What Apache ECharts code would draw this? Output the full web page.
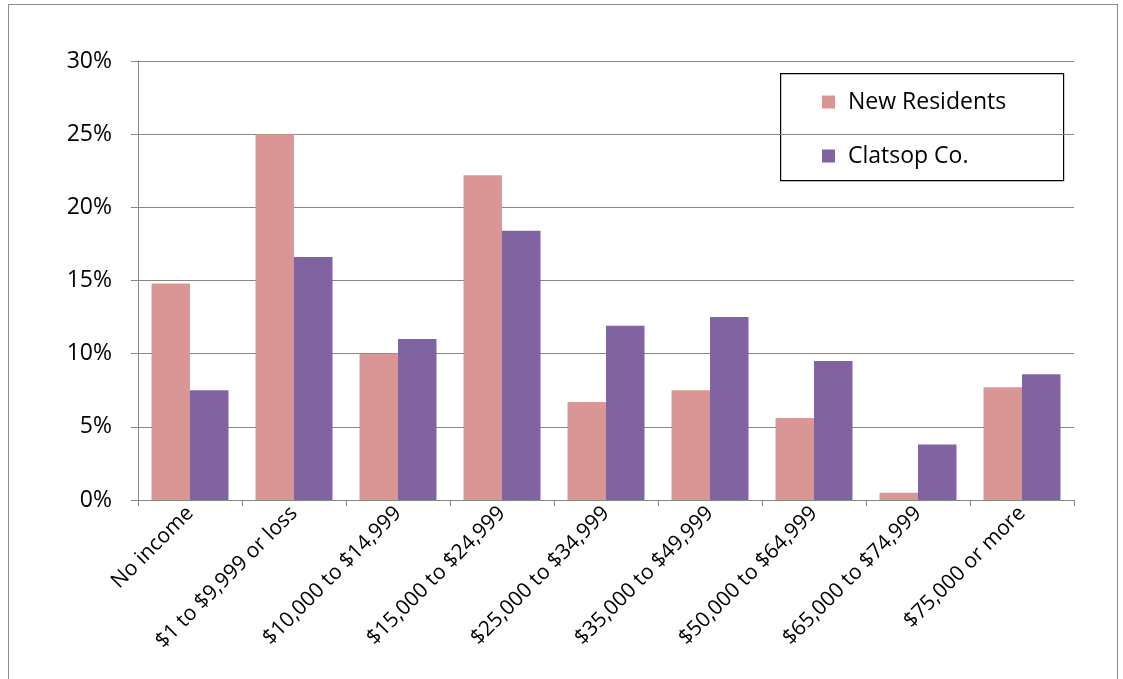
<!DOCTYPE html>
<html>
<head>
<meta charset="utf-8">
<script src="https://cdn.jsdelivr.net/npm/echarts@6/dist/echarts.min.js"></script>
<style>
html,body{margin:0;padding:0;background:#fff;}
#frame{position:absolute;left:8px;top:4px;width:1108px;height:700px;border:1px solid #8c8c8c;}
#chart{position:absolute;left:0;top:0;width:1123px;height:679px;}
</style>
</head>
<body>
<div id="frame"></div>
<div id="chart"></div>
<script>
const categories = ["No income","$1 to $9,999 or loss","$10,000 to $14,999","$15,000 to $24,999","$25,000 to $34,999","$35,000 to $49,999","$50,000 to $64,999","$65,000 to $74,999","$75,000 or more"];
const newResidents = [14.8, 25.0, 10.0, 22.2, 6.7, 7.5, 5.6, 0.5, 7.7];
const clatsop = [7.5, 16.6, 11.0, 18.4, 11.9, 12.5, 9.5, 3.8, 8.6];
const seriesNames = ["New Residents", "Clatsop Co."];

const font = "'Open Sans', sans-serif";
const chart = echarts.init(document.getElementById('chart'));
chart.setOption({
  animation: false,
  backgroundColor: 'transparent',
  grid: {left: 138, right: 49, top: 61, bottom: 179, containLabel: false},
  legend: {
    orient: 'vertical',
    left: 822, top: 88,
    padding: 0,
    itemWidth: 13, itemHeight: 13,
    itemGap: 26,
    icon: 'rect',
    textStyle: {fontFamily: font, fontSize: 23, color: '#000', padding: [0,0,0,8], lineHeight: 28},
    data: seriesNames
  },
  graphic: [{
    type: 'rect', left: 780, top: 73, z: 0,
    shape: {width: 283, height: 107},
    style: {fill: '#fff', stroke: '#000', lineWidth: 1.2}
  }],
  xAxis: {
    type: 'category',
    data: categories,
    axisLine: {lineStyle: {color: '#868686', width: 1}},
    axisTick: {show: true, length: 6, alignWithLabel: false, lineStyle: {color: '#868686'}},
    axisLabel: {rotate: 45, interval: 0, margin: 10, fontFamily: font, fontSize: 21, color: '#000'}
  },
  yAxis: {
    type: 'value',
    min: 0, max: 30, interval: 5,
    axisLine: {show: true, lineStyle: {color: '#868686'}},
    axisTick: {show: true, length: 7, lineStyle: {color: '#868686'}},
    splitLine: {lineStyle: {color: '#868686', width: 1}},
    axisLabel: {formatter: '{value}%', margin: 26, fontFamily: font, fontSize: 23, color: '#000'}
  },
  series: [
    {name: seriesNames[0], type: 'bar', data: newResidents, barGap: '0%', barCategoryGap: '26%', itemStyle: {color: '#D99694'}},
    {name: seriesNames[1], type: 'bar', data: clatsop, barGap: '0%', barCategoryGap: '26%', itemStyle: {color: '#8064A2'}}
  ]
});
</script>
</body>
</html>
